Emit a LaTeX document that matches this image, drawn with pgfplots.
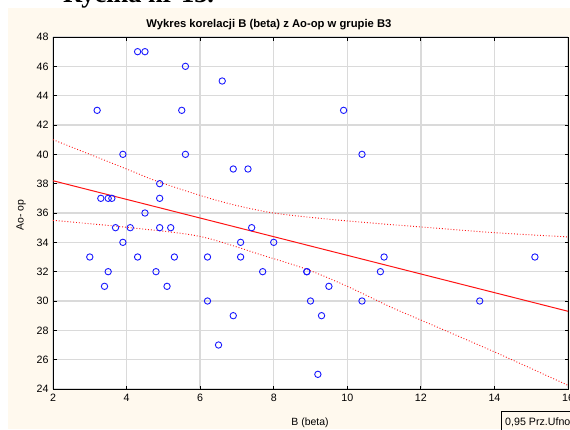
\documentclass[border=0pt]{standalone}
\usepackage{fontspec}
\setmainfont{Liberation Sans}
\newfontfamily\headfont{Liberation Serif}
\usepackage{pgfplots}
\pgfplotsset{compat=1.18}
\definecolor{cream}{RGB}{255,249,238}
\definecolor{gridgray}{RGB}{218,218,218}
\definecolor{ptblue}{RGB}{25,25,255}
\definecolor{fitred}{RGB}{255,20,20}

\begin{document}
\begin{tikzpicture}[x=1bp,y=1bp]
\useasboundingbox (-53,-40) rectangle (517,389);
\fill[white] (-53,-40) rectangle (517,389);
\fill[cream] (-45,-40) rectangle (517,381);
\node[anchor=base west, font=\headfont\bfseries\fontsize{26.5}{30}\selectfont, inner sep=0] at (10,387) {Rycina nr 13.};
\begin{axis}[
  at={(0,0)}, anchor=south west,
  scale only axis, width=515bp, height=352bp,
  xmin=2, xmax=16, ymin=24, ymax=48,
  xtick={2,4,...,16}, ytick={24,26,...,48},
  grid=major,
  major grid style={gridgray, line width=1.3bp},
  axis line style={black, line width=0.9bp},
  tick style={black, line width=0.8bp},
  tick align=inside, major tick length=3.5bp,
  axis background/.style={fill=white},
  tick label style={font=\fontsize{10.7}{12}\selectfont},
  /pgf/number format/assume math mode=true,
  xticklabel style={yshift=-2bp},
  yticklabel style={xshift=-1bp},
]
\addplot[only marks, mark=o, mark size=3.2pt, mark options={ptblue, line width=0.9bp}] coordinates {
(4.3,47) (4.5,47) (5.6,46) (6.6,45) (3.2,43) (5.5,43) (9.9,43)
(3.9,40) (5.6,40) (10.4,40) (6.9,39) (7.3,39) (4.9,38)
(3.3,37) (3.5,37) (3.6,37) (4.9,37) (4.5,36)
(3.7,35) (4.1,35) (4.9,35) (5.2,35) (7.4,35)
(3.9,34) (7.1,34) (8.0,34)
(3.0,33) (4.3,33) (5.3,33) (6.2,33) (7.1,33) (11.0,33) (15.1,33)
(3.5,32) (4.8,32) (7.7,32) (8.9,32) (8.9,32) (10.9,32)
(3.4,31) (5.1,31) (9.5,31)
(6.2,30) (9.0,30) (10.4,30) (13.6,30)
(6.9,29) (9.3,29) (6.5,27) (9.2,25)
};
\addplot[fitred, line width=1bp] coordinates {(2,38.2) (16,29.3)};
\addplot[fitred, dotted, line width=0.9bp, smooth] coordinates {
(2,41.0) (4,39.0) (4.9,38.1) (6.54,36.8) (8,36.0) (10,35.46) (12,35.05) (14,34.66) (16,34.37)
};
\addplot[fitred, dotted, line width=0.9bp, smooth] coordinates {
(2,35.5) (4.1,35.0) (6,34.4) (7.72,33.1) (8.9,32.16) (10,31.0) (11.17,29.6) (12,28.7) (14,26.53) (16,24.25)
};
\end{axis}
\node[anchor=base, font=\bfseries\fontsize{11.3}{13}\selectfont] at (216,362) {Wykres korelacji B (beta) z Ao-op w grupie B3};
\node[anchor=base, font=\fontsize{10.5}{12}\selectfont] at (257,-36) {B (beta)};
\node[rotate=90, font=\fontsize{10.5}{12}\selectfont] at (-32,174) {Ao- op};
\draw[black, line width=0.8bp] (448.7,-22.7) rectangle (540,-60);
\node[anchor=base west, inner sep=0, font=\fontsize{10.7}{12}\selectfont] at (452,-36.7) {0,95 Prz.Ufność};
\end{tikzpicture}
\end{document}
